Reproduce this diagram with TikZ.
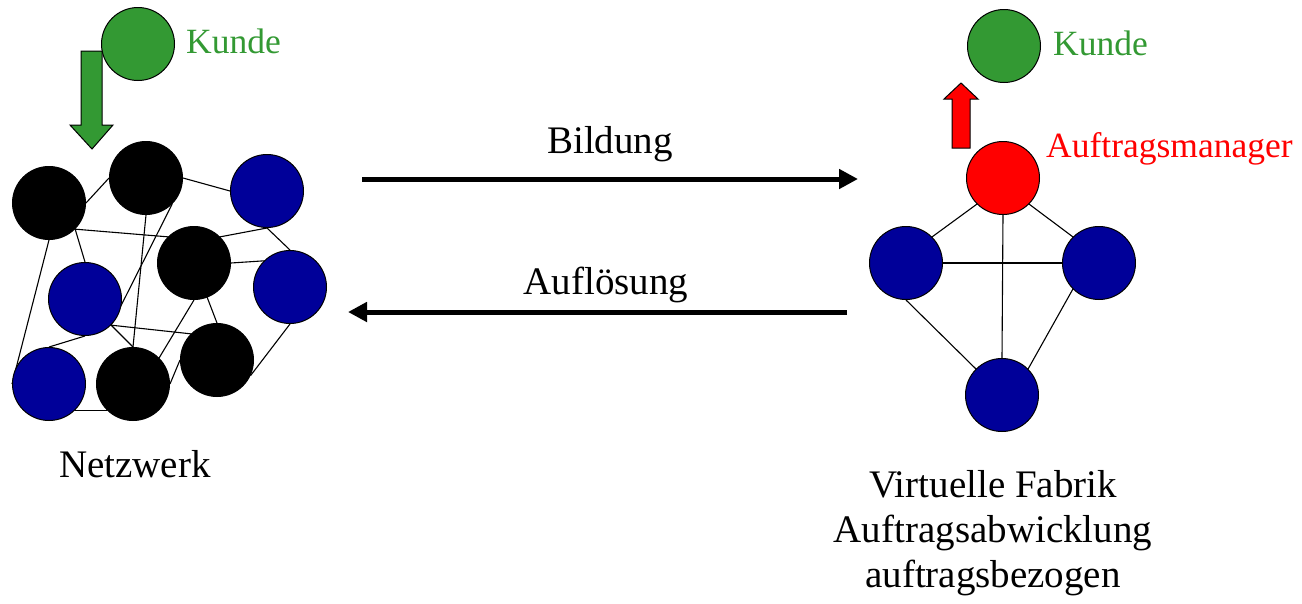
\documentclass[tikz,border=0pt]{standalone}
\usepackage{fontspec}
\setmainfont{Liberation Serif}
\usetikzlibrary{arrows.meta}
\pgfdeclarelayer{bg}
\pgfsetlayers{bg,main}
\definecolor{kgreen}{RGB}{51,153,51}
\definecolor{kblue}{RGB}{0,0,153}
\definecolor{kred}{RGB}{255,0,0}
\begin{document}
\begin{tikzpicture}[x=1pt,y=-1pt,
  dot/.style={circle,draw=black,line width=1pt,minimum size=73pt,inner sep=0pt},
  blk/.style={dot,fill=black},
  blu/.style={dot,fill=kblue},
  grn/.style={dot,fill=kgreen},
  rd/.style={dot,fill=kred},
  edge/.style={line width=1.1pt},
  big/.style={font=\fontsize{39}{45}\selectfont,anchor=base},
  col/.style={font=\fontsize{35.5}{40}\selectfont,anchor=base west,inner sep=0pt},
  flow/.style={line width=5pt,-{Triangle[length=19pt,width=19pt]}},
  blockarrow/.style={draw=black,line width=1pt,line join=miter}
]
\useasboundingbox (0,0) rectangle (1302,603);
% left network nodes
\node[blk] (nA) at (49,203) {};
\node[blk] (nB) at (146,178) {};
\node[blu] (nC) at (267,191) {};
\node[blk] (nD) at (194,263) {};
\node[blu] (nE) at (290,287) {};
\node[blu] (nF) at (85,299) {};
\node[blk] (nG) at (217,360) {};
\node[blu] (nH) at (49,384) {};
\node[blk] (nI) at (133,384) {};
% left network edges (behind the nodes)
\begin{pgfonlayer}{bg}
\draw[edge] (nA.east) -- (nB.west);
\draw[edge] (nB.east) -- (nC.west);
\draw[edge] (nA.south east) -- (nD.north west);
\draw[edge] (nA.south east) -- (nF.north);
\draw[edge] (nA.south) -- (nH.west);
\draw[edge] (nB.south) -- (nI.north);
\draw[edge] (nB.south east) -- (nF.south east);
\draw[edge] (nC.south) -- (nD.north east);
\draw[edge] (nC.south) -- (nE.north);
\draw[edge] (nD.east) -- (nE.north west);
\draw[edge] (nD.south) -- (nI.north east);
\draw[edge] (nG.north) -- (nD.center);
\draw[edge] (nF.south east) -- (nG.north west);
\draw[edge] (nF.south east) -- (nI.north);
\draw[edge] (nF.south) -- (nH.north);
\draw[edge] (nE.south) -- (nG.-25);
\draw[edge] (nH.south east) -- (nI.south west);
\draw[edge] (nI.east) -- (nG.west);
\end{pgfonlayer}
% left customer
\node[grn] (k1) at (138,44) {};
\node[col,text=kgreen] (k1l) at (186,53) {Kunde};
\draw[blockarrow,fill=kgreen] (81,51) -- (102,51) -- (102,125) -- (113,125) -- (92,149) -- (70,125) -- (81,125) -- cycle;
\node[big] (netz) at (135,477) {Netzwerk};
% right virtual factory
\node[rd] (mgr) at (1003,178) {};
\node[blu] (vl) at (906,263) {};
\node[blu] (vr) at (1099,263) {};
\node[blu] (vb) at (1002,395) {};
\begin{pgfonlayer}{bg}
\draw[edge] (mgr.south west) -- (vl.north east);
\draw[edge] (mgr.south east) -- (vr.north west);
\draw[edge] (mgr.south) -- (vb.north);
\draw[edge] (vl.east) -- (vr.west);
\draw[edge] (vl.south) -- (vb.north west);
\draw[edge] (vr.south west) -- (vb.north east);
\end{pgfonlayer}
\node[grn] (k2) at (1004,46) {};
\node[col,text=kgreen] (k2l) at (1053,55) {Kunde};
\node[col,text=kred] (mgrl) at (1046,157) {Auftragsmanager};
\draw[blockarrow,fill=kred] (952,148) -- (970,148) -- (970,99) -- (978,99) -- (961,83) -- (944,99) -- (952,99) -- cycle;
\node[big] (vf1) at (993,497) {Virtuelle Fabrik};
\node[big] (vf2) at (993,542) {Auftragsabwicklung};
\node[big] (vf3) at (993,587) {auftragsbezogen};
% process arrows
\coordinate (b1) at (362,179);
\coordinate (b2) at (858,179);
\coordinate (a1) at (847,312);
\coordinate (a2) at (348,312);
\draw[flow] (b1) -- (b2);
\draw[flow] (a1) -- (a2);
\node[big] (bl) at (610,153) {Bildung};
\node[big] (al) at (606,294) {Auflösung};
\end{tikzpicture}
\end{document}
